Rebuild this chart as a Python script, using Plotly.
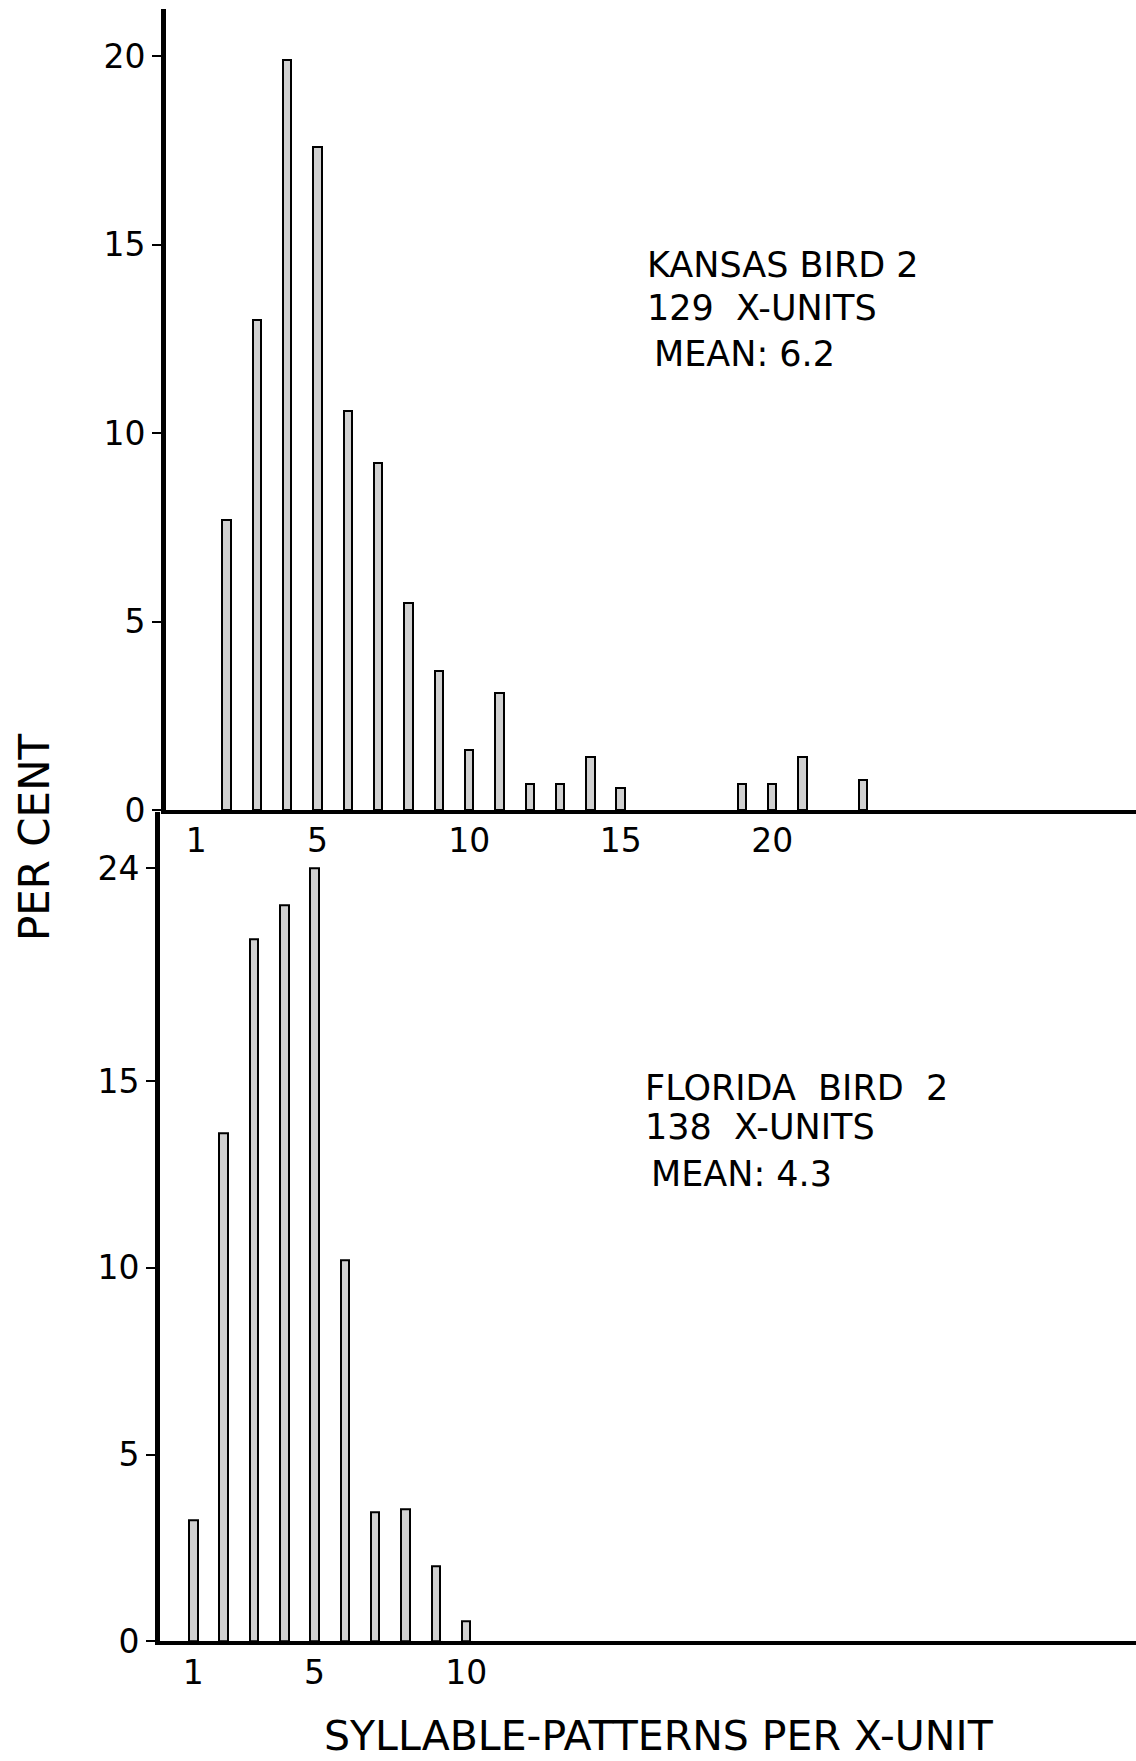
import plotly.graph_objects as go

# Syllable-pattern distributions (per cent of X-units)
kansas_x = [2, 3, 4, 5, 6, 7, 8, 9, 10, 11, 12, 13, 14, 15, 19, 20, 21, 23]
kansas_pct = [7.7, 13.0, 19.9, 17.6, 10.6, 9.2, 5.5, 3.7, 1.6, 3.1,
              0.7, 0.7, 1.4, 0.6, 0.7, 0.7, 1.4, 0.8]

florida_x = [1, 2, 3, 4, 5, 6, 7, 8, 9, 10]
florida_pct = [3.25, 13.6, 18.8, 19.7, 20.7, 10.2, 3.45, 3.55, 2.0, 0.55]

kansas_xticks = [1, 5, 10, 15, 20]
florida_xticks = [1, 5, 10]
kansas_yticks = [0, 5, 10, 15, 20]
kansas_ytext = ["0", "5", "10", "15", "20"]
florida_yticks = [0, 5, 10, 15, 20.7]
florida_ytext = ["0", "5", "10", "15", "24"]

kansas_label = ["KANSAS BIRD 2", "129  X-UNITS", "MEAN: 6.2"]
florida_label = ["FLORIDA  BIRD  2", "138  X-UNITS", "MEAN: 4.3"]

FONT = "DejaVu Sans"
W, H = 1136, 1761
VS = 1.008  # vertical stretch applied to layout positions


def py(v):
    """Vertical pixel position (from top) -> paper coordinate."""
    return 1 - (v * VS) / H


fig = go.Figure()

bar_style = dict(
    width=0.28,
    marker=dict(color="#d0d0d0", line=dict(color="black", width=2)),
    showlegend=False,
    hoverinfo="x+y",
)

fig.add_trace(go.Bar(x=kansas_x, y=kansas_pct, xaxis="x", yaxis="y", **bar_style))
fig.add_trace(go.Bar(x=florida_x, y=florida_pct, xaxis="x2", yaxis="y2", **bar_style))

axis_common = dict(
    showgrid=False,
    zeroline=False,
    showline=True,
    linecolor="black",
    tickfont=dict(family=FONT, size=33, color="black"),
)

fig.update_layout(
    width=W,
    height=H,
    margin=dict(l=0, r=0, t=0, b=0),
    paper_bgcolor="white",
    plot_bgcolor="white",
    bargap=0,
    xaxis=dict(
        domain=[166 / W, 1.0],
        range=[0, 32],
        anchor="y",
        tickmode="array",
        tickvals=kansas_xticks,
        ticks="",
        ticklabelstandoff=-2,
        linewidth=4,
        **axis_common,
    ),
    yaxis=dict(
        domain=[py(813), py(9)],
        range=[0, 21.25],
        anchor="x",
        tickmode="array",
        tickvals=kansas_yticks,
        ticktext=kansas_ytext,
        ticks="outside",
        ticklen=9,
        tickwidth=2,
        tickcolor="black",
        linewidth=5,
        **axis_common,
    ),
    xaxis2=dict(
        domain=[160 / W, 1.0],
        range=[-0.1, 32.1],
        anchor="y2",
        tickmode="array",
        tickvals=florida_xticks,
        ticks="",
        ticklabelstandoff=-1,
        linewidth=4,
        **axis_common,
    ),
    yaxis2=dict(
        domain=[py(1647), py(815)],
        range=[0, 22.2],
        anchor="x2",
        tickmode="array",
        tickvals=florida_yticks,
        ticktext=florida_ytext,
        ticks="outside",
        ticklen=9,
        tickwidth=2,
        tickcolor="black",
        linewidth=5,
        **axis_common,
    ),
)

annotations = []


def block(lines, left, tops, indent):
    for i, (txt, yp) in enumerate(zip(lines, tops)):
        annotations.append(dict(
            text=txt, xref="paper", yref="paper",
            x=(left + (indent if i == 2 else 0)) / W, y=py(yp),
            xanchor="left", yanchor="middle", showarrow=False,
            font=dict(family=FONT, size=35, color="black"),
        ))


block(kansas_label, 645, [266, 309, 355], 7)
block(florida_label, 643, [1092, 1131, 1178], 6)

annotations.append(dict(
    text="PER CENT", xref="paper", yref="paper",
    x=34 / W, y=py(840), textangle=-90,
    xanchor="center", yanchor="middle", showarrow=False,
    font=dict(family=FONT, size=42, color="black"),
))
annotations.append(dict(
    text="SYLLABLE-PATTERNS PER X-UNIT", xref="paper", yref="paper",
    x=659 / W, y=py(1742),
    xanchor="center", yanchor="middle", showarrow=False,
    font=dict(family=FONT, size=41, color="black"),
))

fig.update_layout(annotations=annotations)

fig.write_html("out.html")
